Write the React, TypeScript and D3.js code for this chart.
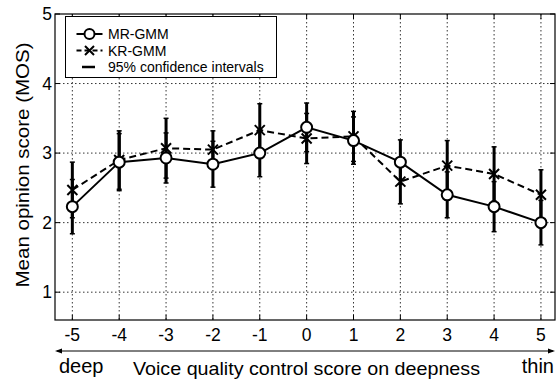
import * as d3 from "d3";
import { useEffect, useRef } from "react";

// voice quality control scores
const scores = [-5, -4, -3, -2, -1, 0, 1, 2, 3, 4, 5];
const yTicks = [1, 2, 3, 4, 5];

// MR-GMM mean and 95% CI half-width
const mrMean = [2.23, 2.87, 2.93, 2.84, 3.0, 3.37, 3.18, 2.87, 2.4, 2.23, 2.0];
const mrCi = [0.39, 0.41, 0.36, 0.33, 0.34, 0.35, 0.34, 0.32, 0.33, 0.36, 0.32];

// KR-GMM mean and 95% CI half-width
const krMean = [2.47, 2.9, 3.07, 3.05, 3.33, 3.21, 3.24, 2.59, 2.82, 2.7, 2.4];
const krCi = [0.4, 0.42, 0.43, 0.27, 0.38, 0.36, 0.36, 0.32, 0.36, 0.39, 0.36];

const FONT = "'Liberation Sans', Arial, sans-serif";

export default function App() {
  const ref = useRef<HTMLDivElement>(null);

  useEffect(() => {
    if (!ref.current) return;
    const width = 556;
    const height = 379;
    const margin = { top: 14, right: 1, bottom: 59, left: 55 };
    const innerW = width - margin.left - margin.right;
    const innerH = height - margin.top - margin.bottom;

    ref.current.innerHTML = "";
    const svg = d3
      .select(ref.current)
      .append("svg")
      .attr("width", width)
      .attr("height", height)
      .style("display", "block");

    const g = svg.append("g").attr("transform", `translate(${margin.left},${margin.top})`);

    const x = d3.scaleLinear().domain([-5.37, 5.3]).range([0, innerW]);
    const y = d3.scaleLinear().domain([0.6, 5]).range([innerH, 0]);

    // grid
    g.selectAll(".vgrid")
      .data(scores)
      .join("line")
      .attr("x1", (d) => x(d))
      .attr("x2", (d) => x(d))
      .attr("y1", 0)
      .attr("y2", innerH)
      .attr("stroke", "#000")
      .attr("stroke-width", 0.8)
      .attr("stroke-dasharray", "1.5,2.5");
    g.selectAll(".hgrid")
      .data(yTicks.filter((d) => d < 5))
      .join("line")
      .attr("x1", 0)
      .attr("x2", innerW)
      .attr("y1", (d) => y(d))
      .attr("y2", (d) => y(d))
      .attr("stroke", "#000")
      .attr("stroke-width", 0.8)
      .attr("stroke-dasharray", "1.5,2.5");

    // frame
    g.append("rect")
      .attr("width", innerW)
      .attr("height", innerH)
      .attr("fill", "none")
      .attr("stroke", "#000")
      .attr("stroke-width", 1.2);

    // inner ticks
    const tl = 5;
    scores.forEach((s) => {
      g.append("line").attr("x1", x(s)).attr("x2", x(s)).attr("y1", 0).attr("y2", tl).attr("stroke", "#000");
      g.append("line").attr("x1", x(s)).attr("x2", x(s)).attr("y1", innerH).attr("y2", innerH - tl).attr("stroke", "#000");
    });
    yTicks.forEach((v) => {
      g.append("line").attr("x1", 0).attr("x2", tl).attr("y1", y(v)).attr("y2", y(v)).attr("stroke", "#000");
      g.append("line").attr("x1", innerW).attr("x2", innerW - tl).attr("y1", y(v)).attr("y2", y(v)).attr("stroke", "#000");
    });

    // tick labels
    g.selectAll(".xlab")
      .data(scores)
      .join("text")
      .attr("x", (d) => x(d))
      .attr("y", innerH + 21)
      .attr("text-anchor", "middle")
      .style("font-family", FONT)
      .style("font-size", "17.5px")
      .text((d) => `${d}`);
    g.selectAll(".ylab")
      .data(yTicks)
      .join("text")
      .attr("x", -3)
      .attr("y", (d) => y(d) + 6)
      .attr("text-anchor", "end")
      .style("font-family", FONT)
      .style("font-size", "17.5px")
      .text((d) => `${d}`);

    // y title
    svg
      .append("text")
      .attr("transform", `translate(29,165) rotate(-90)`)
      .attr("text-anchor", "middle")
      .attr("textLength", 245)
      .attr("lengthAdjust", "spacingAndGlyphs")
      .style("font-family", FONT)
      .style("font-size", "19px")
      .text("Mean opinion score (MOS)");

    // arrow under axis
    const ay = 351;
    svg.append("line").attr("x1", 57).attr("x2", 553).attr("y1", ay).attr("y2", ay).attr("stroke", "#000").attr("stroke-width", 1);
    svg.append("path").attr("d", `M55,${ay} L62,${ay - 2.5} L62,${ay + 2.5} Z`).attr("fill", "#000");
    svg.append("path").attr("d", `M555,${ay} L548,${ay - 2.5} L548,${ay + 2.5} Z`).attr("fill", "#000");
    svg.append("text").attr("x", 59).attr("y", 373).style("font-family", FONT).style("font-size", "20px").text("deep");
    svg.append("text").attr("x", 554).attr("y", 373).attr("text-anchor", "end").style("font-family", FONT).style("font-size", "20px").text("thin");
    svg
      .append("text")
      .attr("x", 133)
      .attr("y", 375)
      .attr("textLength", 347)
      .attr("lengthAdjust", "spacingAndGlyphs")
      .style("font-family", FONT)
      .style("font-size", "18.5px")
      .text("Voice quality control score on deepness");

    // error bars
    const bars = (mean: number[], ci: number[]) => {
      scores.forEach((s, i) => {
        const lo = y(mean[i] - ci[i]);
        const hi = y(mean[i] + ci[i]);
        g.append("line").attr("x1", x(s)).attr("x2", x(s)).attr("y1", lo).attr("y2", hi).attr("stroke", "#000").attr("stroke-width", 3);
        [lo, hi].forEach((yy) =>
          g.append("line").attr("x1", x(s) - 2.5).attr("x2", x(s) + 2.5).attr("y1", yy).attr("y2", yy).attr("stroke", "#000").attr("stroke-width", 1.5)
        );
      });
    };
    bars(mrMean, mrCi);
    bars(krMean, krCi);

    // lines
    const line = d3
      .line<number>()
      .x((_, i) => x(scores[i]))
      .y((d) => y(d));
    g.append("path").datum(krMean).attr("d", line).attr("fill", "none").attr("stroke", "#000").attr("stroke-width", 2).attr("stroke-dasharray", "7,4");
    g.append("path").datum(mrMean).attr("d", line).attr("fill", "none").attr("stroke", "#000").attr("stroke-width", 2);

    // markers
    const cross = (cx: number, cy: number, s = 5) =>
      `M${cx - s},${cy - s}L${cx + s},${cy + s}M${cx - s},${cy + s}L${cx + s},${cy - s}`;
    krMean.forEach((v, i) => {
      g.append("path").attr("d", cross(x(scores[i]), y(v))).attr("stroke", "#000").attr("stroke-width", 2);
    });
    mrMean.forEach((v, i) => {
      g.append("circle").attr("cx", x(scores[i])).attr("cy", y(v)).attr("r", 5.5).attr("fill", "#fff").attr("stroke", "#000").attr("stroke-width", 2);
    });

    // legend
    const lg = svg.append("g").attr("transform", "translate(65.5,16.5)");
    lg.append("rect").attr("width", 211).attr("height", 61).attr("fill", "#fff").attr("stroke", "#000").attr("stroke-width", 1);
    const rows = [
      { label: "MR-GMM", kind: "mr" },
      { label: "KR-GMM", kind: "kr" },
      { label: "95% confidence intervals", kind: "ci" },
    ];
    rows.forEach((r, i) => {
      const ry = 17.5 + i * 16.5;
      if (r.kind === "mr") {
        lg.append("line").attr("x1", 11).attr("x2", 37).attr("y1", ry).attr("y2", ry).attr("stroke", "#000").attr("stroke-width", 2);
        lg.append("circle").attr("cx", 24).attr("cy", ry).attr("r", 5).attr("fill", "#fff").attr("stroke", "#000").attr("stroke-width", 2);
      } else if (r.kind === "kr") {
        lg.append("line").attr("x1", 11).attr("x2", 37).attr("y1", ry).attr("y2", ry).attr("stroke", "#000").attr("stroke-width", 2).attr("stroke-dasharray", "5,3");
        lg.append("path").attr("d", cross(24, ry, 4.5)).attr("stroke", "#000").attr("stroke-width", 2);
      } else {
        lg.append("line").attr("x1", 16.5).attr("x2", 29.5).attr("y1", ry).attr("y2", ry).attr("stroke", "#000").attr("stroke-width", 2.5);
      }
      lg.append("text")
        .attr("x", 42.5)
        .attr("y", ry + 5)
        .style("font-family", FONT)
        .style("font-size", "14px")
        .text(r.label);
    });
  }, []);

  return <div ref={ref} style={{ position: "absolute", left: 0, top: 0 }} />;
}
